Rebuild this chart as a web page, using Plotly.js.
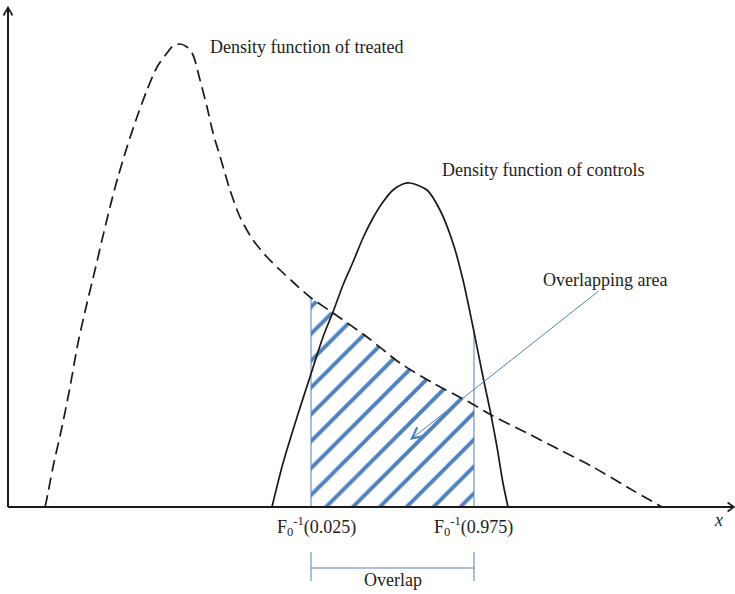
<!DOCTYPE html>
<html>
<head>
<meta charset="utf-8">
<script src="https://cdn.plot.ly/plotly-3.0.1.min.js"></script>
<style>
  html, body { margin: 0; padding: 0; background: #fff; }
  #chart { width: 735px; height: 594px; }
</style>
</head>
<body>
<div id="chart"></div>
<script>
// ---- Data (arbitrary units) ----
// Density function of treated (dashed)
var treatedX = [0.529, 0.557, 0.643, 0.771, 0.886, 1.000, 1.129, 1.243, 1.343, 1.457, 1.571, 1.700, 1.843, 1.986, 2.129, 2.271, 2.357, 2.457, 2.557, 2.643, 2.743, 2.843, 2.929, 3.057, 3.171, 3.314, 3.500, 3.700, 3.886, 4.086, 4.314, 4.643, 5.129, 5.600, 6.071, 6.557, 6.929, 7.414, 7.886, 8.357, 8.843, 9.343];
var treatedY = [0.000, 0.018, 0.080, 0.160, 0.240, 0.328, 0.408, 0.474, 0.534, 0.600, 0.660, 0.720, 0.780, 0.834, 0.880, 0.908, 0.922, 0.926, 0.920, 0.904, 0.854, 0.800, 0.748, 0.688, 0.634, 0.580, 0.534, 0.500, 0.474, 0.448, 0.420, 0.388, 0.340, 0.288, 0.248, 0.212, 0.182, 0.148, 0.114, 0.080, 0.040, 0.000];
// Density function of controls (solid)
var controlsX = [3.771, 3.929, 4.129, 4.314, 4.500, 4.643, 4.786, 4.929, 5.071, 5.214, 5.357, 5.500, 5.643, 5.743, 5.986, 6.171, 6.357, 6.500, 6.643, 6.786, 6.886, 6.986, 7.071, 7.143];
var controlsY = [0.000, 0.088, 0.180, 0.260, 0.340, 0.390, 0.444, 0.490, 0.538, 0.578, 0.610, 0.634, 0.646, 0.648, 0.634, 0.594, 0.528, 0.454, 0.360, 0.260, 0.194, 0.120, 0.048, 0.000];
// Quantiles of the controls distribution: F0^-1(0.025), F0^-1(0.975)
var quantileX = [4.329, 6.657];
var quantileLabels = ['F<sub>0</sub><sup>-1</sup>(0.025)', 'F<sub>0</sub><sup>-1</sup>(0.975)'];
var curveLabels = ['Density function of treated', 'Density function of controls'];
var overlapAreaLabel = 'Overlapping area';
var overlapLabel = 'Overlap';
var axisLabel = 'x';

// ---- helpers ----
function interp(xs, ys, x) {
  if (x < xs[0] || x > xs[xs.length - 1]) return 0;
  for (var i = 1; i < xs.length; i++) {
    if (x <= xs[i]) {
      var t = (x - xs[i - 1]) / (xs[i] - xs[i - 1]);
      return ys[i - 1] + t * (ys[i] - ys[i - 1]);
    }
  }
  return ys[0];
}

var qLo = quantileX[0], qHi = quantileX[1];
// hatched region: under the treated density between the two quantiles
var fillX = [qLo], fillY = [interp(treatedX, treatedY, qLo)];
for (var i = 0; i < treatedX.length; i++) {
  if (treatedX[i] > qLo && treatedX[i] < qHi) { fillX.push(treatedX[i]); fillY.push(treatedY[i]); }
}
fillX.push(qHi); fillY.push(interp(treatedX, treatedY, qHi));

var blue = '#4F81BD';
var ink = '#1a1a1a';
var serif = 'Liberation Serif, Times New Roman, serif';

var traces = [];
traces.push({
  x: fillX, y: fillY, type: 'scatter', mode: 'lines', fill: 'tozeroy',
  line: { width: 0, color: 'rgba(0,0,0,0)' },
  fillcolor: 'rgba(0,0,0,0)',
  fillpattern: { shape: '/', fgcolor: blue, fgopacity: 1, bgcolor: 'rgba(0,0,0,0)', size: 19, solidity: 0.21, fillmode: 'overlay' },
  hoverinfo: 'skip', showlegend: false
});
// vertical quantile lines
quantileX.forEach(function (q) {
  var top = Math.max(interp(treatedX, treatedY, q), interp(controlsX, controlsY, q));
  traces.push({
    x: [q, q], y: [0, top], type: 'scatter', mode: 'lines',
    line: { color: blue, width: 1 }, hoverinfo: 'skip', showlegend: false
  });
});
traces.push({
  x: treatedX, y: treatedY, type: 'scatter', mode: 'lines',
  line: { color: ink, width: 1.7, dash: '12px,6px', shape: 'spline', smoothing: 0.8 },
  hoverinfo: 'skip', showlegend: false, name: curveLabels[0]
});
traces.push({
  x: controlsX, y: controlsY, type: 'scatter', mode: 'lines',
  line: { color: ink, width: 1.7, shape: 'spline', smoothing: 0.8 },
  hoverinfo: 'skip', showlegend: false, name: curveLabels[1]
});

// layout geometry (pixel -> data: x=(px-8)/70, y=(507-py)/500)
var xr = [-8 / 70, 727 / 70];
var yr = [-87 / 500, 507 / 500];
var bracketTop = -0.09, bracketBot = -0.148, bracketMid = -0.122;

var shapes = [
  // y axis with arrow
  { type: 'path', xref: 'x', yref: 'y', path: 'M0,0 L0,0.998', line: { color: ink, width: 2 } },
  { type: 'path', xref: 'x', yref: 'y', path: 'M-0.064,0.983 L0,0.999 L0.064,0.983', line: { color: ink, width: 1.6 } },
  // x axis with arrow
  { type: 'path', xref: 'x', yref: 'y', path: 'M0,0 L10.37,0', line: { color: ink, width: 2 } },
  { type: 'path', xref: 'x', yref: 'y', path: 'M10.28,0.009 L10.37,0 L10.28,-0.009', line: { color: ink, width: 1.6 } },
  // overlap bracket
  { type: 'line', xref: 'x', yref: 'y', x0: qLo, x1: qLo, y0: bracketTop, y1: bracketBot, line: { color: blue, width: 1 } },
  { type: 'line', xref: 'x', yref: 'y', x0: qHi, x1: qHi, y0: bracketTop, y1: bracketBot, line: { color: blue, width: 1 } },
  { type: 'line', xref: 'x', yref: 'y', x0: qLo, x1: qHi, y0: bracketMid, y1: bracketMid, line: { color: blue, width: 1 } }
];

var tf = { family: serif, size: 18, color: '#222' };
var annotations = [
  { x: 2.857, y: 0.92, text: curveLabels[0], showarrow: false, xanchor: 'left', yanchor: 'middle', font: tf },
  { x: 6.171, y: 0.674, text: curveLabels[1], showarrow: false, xanchor: 'left', yanchor: 'middle', font: tf },
  { x: 7.614, y: 0.454, text: overlapAreaLabel, showarrow: false, xanchor: 'left', yanchor: 'middle', font: tf },
  { x: qLo, y: -0.038, text: quantileLabels[0], showarrow: false, xanchor: 'center', yanchor: 'middle', xshift: 5, font: tf },
  { x: qHi, y: -0.038, text: quantileLabels[1], showarrow: false, xanchor: 'center', yanchor: 'middle', font: tf },
  { x: (qLo + qHi) / 2, y: -0.146, text: overlapLabel, showarrow: false, xanchor: 'center', yanchor: 'middle', font: tf },
  { x: 10.143, y: -0.026, text: '<i>' + axisLabel + '</i>', showarrow: false, xanchor: 'center', yanchor: 'middle', font: tf },
  // arrow pointing into the overlapping area
  { x: 5.743, y: 0.134, ax: 8.457, ay: 0.434, axref: 'x', ayref: 'y', text: '', showarrow: true,
    arrowhead: 5, arrowsize: 2.2, arrowwidth: 1, arrowcolor: blue, standoff: 0 }
];

var layout = {
  width: 735, height: 594,
  margin: { l: 0, r: 0, t: 0, b: 0, pad: 0 },
  paper_bgcolor: '#fff', plot_bgcolor: '#fff',
  xaxis: { range: xr, visible: false, fixedrange: true },
  yaxis: { range: yr, visible: false, fixedrange: true },
  shapes: shapes,
  annotations: annotations,
  showlegend: false
};

Plotly.newPlot('chart', traces, layout, { displayModeBar: false, staticPlot: true });
</script>
</body>
</html>
